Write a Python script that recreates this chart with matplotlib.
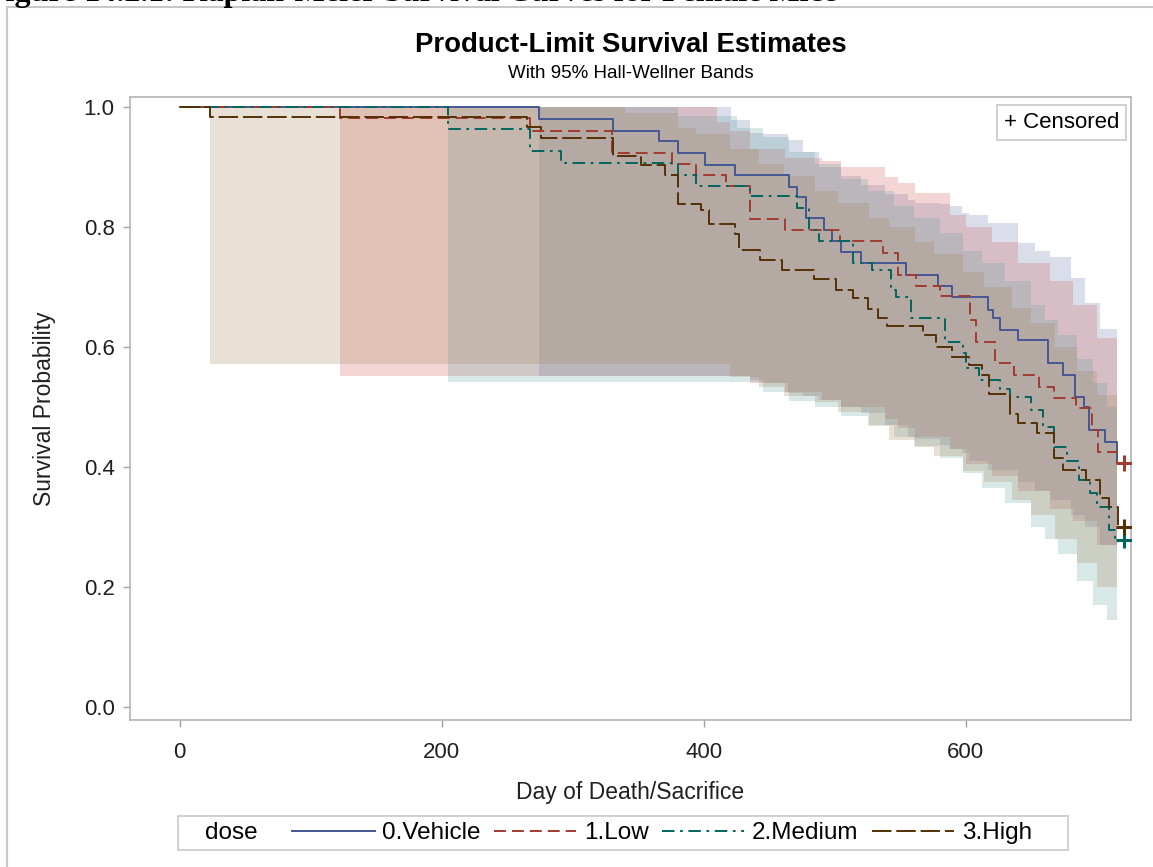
import numpy as np
import matplotlib.pyplot as plt
from matplotlib.lines import Line2D
from matplotlib.patches import Rectangle

plt.rcParams['font.family'] = ['Liberation Sans', 'DejaVu Sans']
plt.rcParams['lines.scale_dashes'] = False

# Kaplan-Meier estimates (day, survival)
veh_days = [0, 274, 331, 366, 380, 401, 424, 465, 471, 478, 492, 498, 505, 520, 554, 579,
            589, 617, 621, 626, 640, 663, 674, 683, 690, 694, 706, 715]
veh_surv = [1.0, 0.980, 0.960, 0.943, 0.924, 0.904, 0.886, 0.867, 0.850, 0.815, 0.795, 0.776,
            0.759, 0.740, 0.720, 0.702, 0.683, 0.662, 0.648, 0.628, 0.612, 0.573, 0.553, 0.517,
            0.500, 0.462, 0.442, 0.407]

low_days = [0, 122, 267, 330, 376, 394, 417, 435, 462, 504, 537, 548, 562, 580, 603, 608,
            622, 637, 656, 667, 684, 696, 701, 715, 721]
low_surv = [1.0, 0.981, 0.960, 0.924, 0.905, 0.887, 0.868, 0.813, 0.795, 0.776, 0.757, 0.720,
            0.702, 0.685, 0.645, 0.609, 0.573, 0.553, 0.534, 0.515, 0.498, 0.462, 0.425, 0.407,
            0.407]

med_days = [0, 205, 267, 291, 380, 394, 435, 471, 480, 488, 514, 528, 543, 547, 558, 584,
            598, 600, 610, 626, 634, 650, 659, 667, 677, 686, 695, 700, 709, 714, 721]
med_surv = [1.0, 0.963, 0.926, 0.906, 0.887, 0.869, 0.851, 0.831, 0.795, 0.776, 0.740, 0.728,
            0.695, 0.684, 0.648, 0.609, 0.590, 0.565, 0.545, 0.530, 0.517, 0.495, 0.467, 0.433,
            0.410, 0.378, 0.357, 0.333, 0.295, 0.278, 0.278]

high_days = [0, 23, 265, 276, 331, 352, 370, 380, 398, 404, 424, 427, 443, 460, 484, 501,
             514, 525, 533, 540, 567, 577, 589, 602, 612, 618, 634, 640, 654, 667, 674, 692,
             702, 709, 716, 721]
high_surv = [1.0, 0.983, 0.966, 0.949, 0.918, 0.903, 0.887, 0.839, 0.828, 0.805, 0.788,
             0.761, 0.745, 0.728, 0.713, 0.695, 0.681, 0.664, 0.648, 0.635, 0.620, 0.600,
             0.584, 0.570, 0.553, 0.522, 0.489, 0.474, 0.457, 0.415, 0.395, 0.378, 0.348,
             0.334, 0.300, 0.300]

# Hall-Wellner band edges (approximate)
veh_band_days = [274, 379, 421, 435, 445, 464, 476, 488, 505, 520, 538, 556, 561, 580, 588,
                 597, 602, 617, 640, 653, 664, 680, 691, 702, 715]
veh_band_hi = [1.0, 1.0, 0.978, 0.957, 0.955, 0.945, 0.925, 0.9, 0.885, 0.87, 0.855, 0.845,
               0.84, 0.838, 0.835, 0.823, 0.82, 0.807, 0.773, 0.76, 0.75, 0.715, 0.673,
               0.63, 0.595]
veh_band_lo = [0.552, 0.552, 0.552, 0.545, 0.54, 0.523, 0.518, 0.512, 0.5, 0.49, 0.47, 0.45,
               0.447, 0.437, 0.43, 0.423, 0.41, 0.395, 0.375, 0.36, 0.345, 0.32, 0.3, 0.27,
               0.25]

low_band_days = [122, 390, 410, 420, 435, 462, 490, 505, 538, 548, 561, 588, 600, 620, 640,
                 664, 682, 700, 715]
low_band_hi = [1.0, 1.0, 0.975, 0.96, 0.93, 0.915, 0.91, 0.9, 0.883, 0.873, 0.857, 0.82, 0.8,
               0.775, 0.74, 0.71, 0.67, 0.615, 0.57]
low_band_lo = [0.552, 0.552, 0.552, 0.552, 0.54, 0.525, 0.512, 0.5, 0.48, 0.465, 0.45, 0.43,
               0.405, 0.385, 0.36, 0.33, 0.31, 0.27, 0.255]

med_band_days = [205, 330, 380, 425, 445, 465, 485, 505, 525, 545, 560, 580, 598, 612, 630,
                 650, 660, 670, 685, 697, 708, 715]
med_band_hi = [1.0, 1.0, 0.985, 0.965, 0.95, 0.925, 0.905, 0.88, 0.86, 0.835, 0.815, 0.79,
               0.76, 0.74, 0.71, 0.67, 0.645, 0.62, 0.58, 0.54, 0.5, 0.47]
med_band_lo = [0.541, 0.541, 0.541, 0.541, 0.525, 0.51, 0.5, 0.485, 0.47, 0.45, 0.435, 0.415,
               0.39, 0.365, 0.34, 0.3, 0.28, 0.255, 0.21, 0.17, 0.145, 0.13]

high_band_days = [23, 300, 340, 380, 394, 420, 442, 461, 485, 502, 526, 541, 561, 576, 598,
                  614, 635, 650, 668, 685, 700, 715]
high_band_hi = [1.0, 1.0, 0.99, 0.965, 0.955, 0.93, 0.905, 0.885, 0.86, 0.84, 0.815, 0.8,
                0.775, 0.755, 0.725, 0.7, 0.665, 0.64, 0.6, 0.56, 0.52, 0.48]
high_band_lo = [0.572, 0.572, 0.572, 0.572, 0.572, 0.55, 0.533, 0.519, 0.508, 0.492, 0.469,
                0.445, 0.433, 0.419, 0.394, 0.375, 0.345, 0.32, 0.28, 0.24, 0.2, 0.17]

labels = ['0.Vehicle', '1.Low', '2.Medium', '3.High']
line_colors = ['#445694', '#A23A2E', '#01665E', '#543005']
band_colors = ['#6F7EB3', '#D05B5B', '#66A5A0', '#A9865B']
dash_styles = ['-', (0, (8.6, 4.3)), (0, (9, 4, 2, 4)), (0, (14, 3.5))]

curves = [(veh_days, veh_surv), (low_days, low_surv), (med_days, med_surv),
          (high_days, high_surv)]
bands = [(veh_band_days, veh_band_lo, veh_band_hi), (low_band_days, low_band_lo, low_band_hi),
         (med_band_days, med_band_lo, med_band_hi),
         (high_band_days, high_band_lo, high_band_hi)]
censored = [False, True, True, True]

fig = plt.figure(figsize=(11.53, 8.67), dpi=100)
ax = fig.add_axes([130 / 1153, 1 - 720 / 867, 1001 / 1153, 623 / 867])

for (bd, lo, hi), c in zip(bands, band_colors):
    ax.fill_between(bd, lo, hi, step='post', color=c, alpha=0.25, linewidth=0, zorder=1)

for (d, s), c, ls, cen in zip(curves, line_colors, dash_styles, censored):
    ax.step(d, s, where='post', color=c, linestyle=ls, linewidth=1.4, zorder=3)
    if cen:
        ax.plot(d[-1], s[-1], marker='+', color=c, markersize=11, mew=2.2, zorder=4)

ax.set_xlim(-38, 726)
ax.set_ylim(-0.0217, 1.0167)
ax.set_xticks([0, 200, 400, 600])
ax.set_yticks([0.0, 0.2, 0.4, 0.6, 0.8, 1.0])
ax.set_yticklabels(['0.0', '0.2', '0.4', '0.6', '0.8', '1.0'])
for sp in ax.spines.values():
    sp.set_color('#B4B4B4')
    sp.set_linewidth(1.2)
ax.tick_params(axis='both', length=5, width=1, color='#A0A0A0', labelsize=16,
               labelcolor='#202020')
ax.tick_params(axis='x', pad=11)
ax.tick_params(axis='y', pad=6)
ax.set_xlabel('Day of Death/Sacrifice', fontsize=16.5, labelpad=13, color='#202020')
ax.set_ylabel('Survival Probability', fontsize=16.5, labelpad=20, color='#202020')

ax.text(0.988, 0.976, '+ Censored', transform=ax.transAxes, ha='right', va='top',
        fontsize=16, color='black',
        bbox=dict(boxstyle='square,pad=0.3', fc='white', ec='#C8C8C8', lw=1.2))

fig.text(0.547, 1 - 45 / 867, 'Product-Limit Survival Estimates', ha='center', va='center',
         fontsize=19.8, fontweight='bold')
fig.text(0.547, 1 - 73 / 867, 'With 95% Hall-Wellner Bands', ha='center', va='center',
         fontsize=13.5)

# clipped report heading above the graph frame
fig.text(-14 / 1153, 1 - 1.5 / 867, 'Figure 14.2.1: Kaplan-Meier Survival Curves for Female Mice',
         ha='left', va='baseline', fontsize=23, fontweight='bold',
         family=['Liberation Serif', 'DejaVu Serif'])

# outer frame of the graph
fig.add_artist(Line2D([7 / 1153, 7 / 1153], [0, 1 - 7 / 867], color='#C8C8C8', lw=1.5))
fig.add_artist(Line2D([7 / 1153, 1], [1 - 7 / 867, 1 - 7 / 867], color='#C8C8C8', lw=1.5))

# bottom group legend
fig.add_artist(Rectangle((178 / 1153, 1 - 850 / 867), 890 / 1153, 34 / 867,
                         transform=fig.transFigure, fc='white', ec='#C8C8C8', lw=1.2))
fig.text(205 / 1153, 1 - 833 / 867, 'dose', ha='left', va='center', fontsize=17.5)
handles = [Line2D([], [], color=c, linestyle=ls, linewidth=1.4)
           for c, ls in zip(line_colors, dash_styles)]
fig.legend(handles, labels, loc='center left', bbox_to_anchor=(292 / 1153, 1 - 833 / 867),
           ncol=4, frameon=False, fontsize=17.5, handlelength=3.4, handletextpad=0.3,
           columnspacing=0.55, borderpad=0, borderaxespad=0)

fig.savefig('out.png', dpi=100)
